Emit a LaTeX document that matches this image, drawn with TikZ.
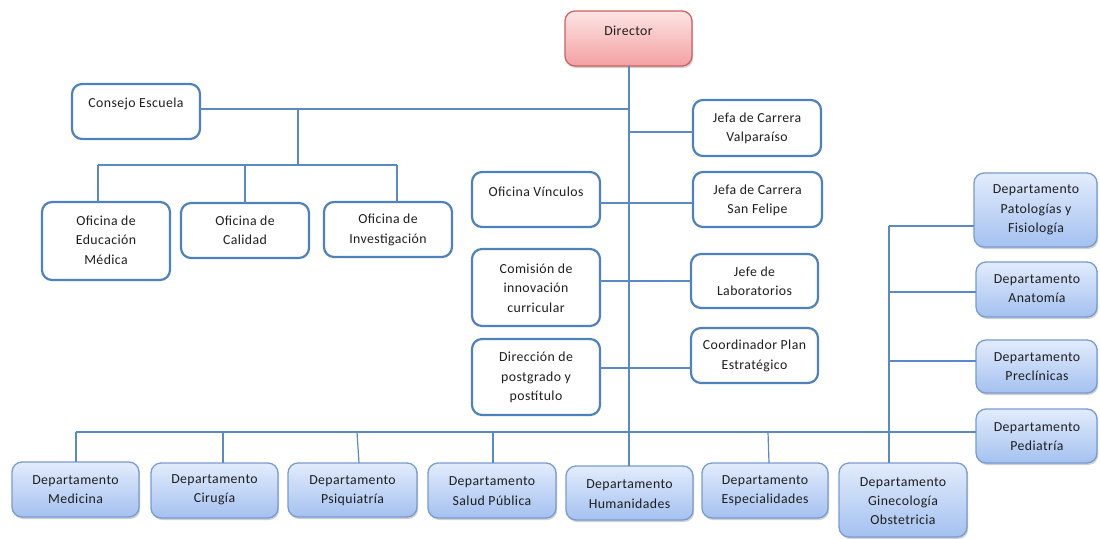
\documentclass[tikz,border=0pt]{standalone}
\usepackage{fontspec}
\setmainfont[LetterSpace=3]{Carlito}
\usetikzlibrary{shadows}
\definecolor{lineC}{RGB}{91,137,197}
\definecolor{wbord}{RGB}{79,129,189}
\definecolor{gbord}{RGB}{120,155,210}
\definecolor{gtop}{RGB}{226,236,252}
\definecolor{gbot}{RGB}{164,193,240}
\definecolor{ptop}{RGB}{253,228,228}
\definecolor{pbot}{RGB}{243,160,160}
\definecolor{pbord}{RGB}{205,95,95}
\definecolor{txtC}{RGB}{30,30,30}
\newcommand\bx[6]{%
  \pgfmathsetmacro\cx{(#3+#5)/2}\pgfmathsetmacro\cy{(#4+#6)/2}%
  \pgfmathsetmacro\bw{#5-#3}\pgfmathsetmacro\bh{#6-#4}%
  \node[#1, minimum width=\bw pt, minimum height=\bh pt] (#2) at (\cx,\cy) {};}
\newcommand\tx[4]{\node[txt] (#1) at (#2,#3) {#4};}
\begin{document}
\begin{tikzpicture}[x=1pt,y=-1pt,
  every node/.style={inner sep=0pt, outer sep=0pt},
  wbox/.style={draw=wbord, line width=2.2pt, rounded corners=10pt, fill=white},
  gbox/.style={draw=gbord, line width=1.3pt, rounded corners=10pt, top color=gtop, bottom color=gbot,
    drop shadow={shadow xshift=1.2pt, shadow yshift=-2pt, opacity=0.3, fill=black!60}},
  pbox/.style={draw=pbord, line width=1.2pt, rounded corners=10pt, top color=ptop, bottom color=pbot,
    drop shadow={shadow xshift=1.2pt, shadow yshift=-2pt, opacity=0.3, fill=black!60}},
  txt/.style={align=center, text=txtC, font=\fontsize{13.8}{19.3}\selectfont},
  conn/.style={draw=lineC, line width=1.2pt}]
\useasboundingbox (0,0) rectangle (1100,538);
% boxes
\bx{pbox}{dir}{565}{11}{692}{66}
\bx{wbox}{cons}{72}{84}{200}{139}
\bx{wbox}{ofed}{42}{202}{170}{280}
\bx{wbox}{ofcal}{181}{203}{309}{258}
\bx{wbox}{ofinv}{324}{202}{452}{257}
\bx{wbox}{valp}{693}{100}{821}{156}
\bx{wbox}{vinc}{472}{172}{600}{227}
\bx{wbox}{sanf}{693}{172}{822}{227}
\bx{wbox}{comi}{472}{249}{600}{326}
\bx{wbox}{lab}{691}{254}{818}{308}
\bx{wbox}{dpg}{472}{339}{600}{415}
\bx{wbox}{coord}{691}{328}{818}{383}
\bx{gbox}{pato}{974}{173}{1097}{247}
\bx{gbox}{anat}{976}{262}{1097}{317}
\bx{gbox}{prec}{976}{340}{1097}{393}
\bx{gbox}{pedi}{976}{409}{1097}{463}
\bx{gbox}{medi}{12}{462}{139}{517}
\bx{gbox}{ciru}{151}{463}{278}{518}
\bx{gbox}{psiq}{288}{463}{417}{517}
\bx{gbox}{salu}{428}{463}{556}{518}
\bx{gbox}{huma}{566}{466}{693}{520}
\bx{gbox}{espe}{702}{463}{828}{518}
\bx{gbox}{gine}{839}{463}{967}{537}
% texts
\tx{tdir}{628.5}{31}{Director}
\tx{tcons}{136}{104}{Consejo Escuela}
\tx{tofed}{106}{240}{Oficina de\\Educación\\Médica}
\tx{tofcal}{245}{230}{Oficina de\\Calidad}
\tx{tofinv}{388}{230}{Oficina de\\Investigación}
\tx{tvalp}{757}{128.5}{Jefa de Carrera\\Valparaíso}
\tx{tvinc}{536}{192}{Oficina Vínculos}
\tx{tsanf}{757.5}{200.5}{Jefa de Carrera\\San Felipe}
\tx{tcomi}{536}{288}{Comisión de\\innovación\\curricular}
\tx{tlab}{754.5}{281}{Jefe de\\Laboratorios}
\tx{tdpg}{536}{377.5}{Dirección de\\postgrado y\\postítulo}
\tx{tcoord}{754.5}{356}{Coordinador Plan\\Estratégico}
\tx{tpato}{1036}{210}{Departamento\\Patologías y\\Fisiología}
\tx{tanat}{1037}{288.5}{Departamento\\Anatomía}
\tx{tprec}{1037}{366.5}{Departamento\\Preclínicas}
\tx{tpedi}{1037}{436.5}{Departamento\\Pediatría}
\tx{tmedi}{75.5}{489.5}{Departamento\\Medicina}
\tx{tciru}{214.5}{489.5}{Departamento\\Cirugía}
\tx{tpsiq}{352.5}{491}{Departamento\\Psiquiatría}
\tx{tsalu}{492}{491}{Departamento\\Salud Pública}
\tx{thuma}{629.5}{494}{Departamento\\Humanidades}
\tx{tespe}{765}{490.5}{Departamento\\Especialidades}
\tx{tgine}{903}{501}{Departamento\\Ginecología\\Obstetricia}
% helper coordinates
\coordinate (tr) at (629,0);
\coordinate (yc) at (0,109);
\coordinate (yo) at (0,165);
\coordinate (yb) at (0,432);
\coordinate (rc) at (889,0);
% trunk
\draw[conn] (dir.south -| tr) -- (huma.north -| tr);
% consejo branch
\draw[conn] (cons.east |- yc) -- (tr |- yc);
\draw[conn] (298,109) -- (298,165);
\draw[conn] (98,165) -- (397,165);
\draw[conn] (98,165) -- (ofed.north -| 98,0);
\draw[conn] (245,165) -- (ofcal.north);
\draw[conn] (397,165) -- (ofinv.north -| 397,0);
% right staff boxes
\draw[conn] (tr |- 0,132) -- (valp.west |- 0,132);
\draw[conn] (vinc.east |- 0,203) -- (sanf.west |- 0,203);
\draw[conn] (comi.east |- lab.west) -- (lab.west);
\draw[conn] (dpg.east |- 0,368) -- (coord.west |- 0,368);
% bottom bus
\draw[conn] (76,432) -- (pedi.west |- yb);
\draw[conn] (76,432) -- (medi.north -| 76,0);
\draw[conn] (223,432) -- (ciru.north -| 223,0);
\draw[conn] (357,432) -- (psiq.north -| 359,0);
\draw[conn] (493,432) -- (salu.north -| 493,0);
\draw[conn] (768,432) -- (espe.north -| 769,0);
% right column
\draw[conn] (rc |- 0,226) -- (gine.north -| rc);
\draw[conn] (rc |- 0,226) -- (pato.west |- 0,226);
\draw[conn] (rc |- 0,292) -- (anat.west |- 0,292);
\draw[conn] (rc |- 0,361) -- (prec.west |- 0,361);
\end{tikzpicture}
\end{document}
